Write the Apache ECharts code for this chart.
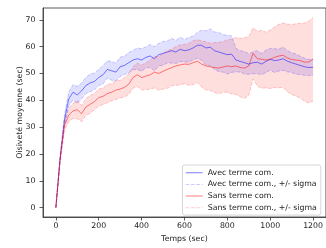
<!DOCTYPE html>
<html>
<head>
<meta charset="utf-8">
<script src="https://cdn.jsdelivr.net/npm/echarts@6/dist/echarts.min.js"></script>
<style>
html,body{margin:0;padding:0;background:#fff}
#chart{width:326px;height:248px}
</style>
</head>
<body>
<div id="chart"></div>
<script>
// temps (sec)
var temps = [0,20,40,60,80,100,120,140,160,180,200,220,240,260,280,300,320,340,360,380,
    400,420,440,460,480,500,520,540,560,580,600,620,640,660,680,700,720,740,760,780,
    800,820,840,860,880,900,920,940,960,980,1000,1020,1040,1060,1080,1100,1120,1140,1160,1180,1200];

// Avec terme com. : moyenne et sigma
var avecMoy = [0,18.5,32.5,40.5,43,42,43.5,45.5,46.5,47,48.5,49.5,51.5,51,50.5,52.5,53,54,55,55.5,
    55,56,56.5,55.5,57,57.5,58,58.5,58,59,58.5,58.8,59.5,60.5,60.5,59.5,59.8,58.5,58,57.5,
    57,57.2,55,54.5,54,53.5,54,54.2,53.5,54.5,55.3,54.8,55,55.5,54.6,54,53.5,53,52.5,52.2,52.3];
var avecSig = [0,1.0,2.0,2.6,2.8,3.2,2.9,3.0,3.3,3.1,3.0,3.4,3.2,3.5,3.3,3.6,3.4,3.8,3.6,4.0,
    4.2,3.9,4.3,4.5,4.2,4.4,4.1,4.6,4.3,4.5,4.2,4.6,4.4,4.8,5.6,6.4,6.8,7.0,7.3,7.0,
    7.2,6.8,4.4,4.0,4.2,3.8,4.1,4.3,3.9,4.2,4.0,4.4,4.1,4.3,4.0,3.6,3.8,3.4,3.2,3.0,3.1];

// Sans terme com. : moyenne et sigma
var sansMoy = [0,18,30.5,34.5,36,36.5,35,37.5,38.5,39.5,41,41.5,42.5,43,43.8,44.2,44.8,46,48.5,49.5,
    48.5,49,49.5,50.5,50,50.8,51.5,52.2,52.8,53.2,53.5,53.4,54,54.6,53.5,52.8,52.5,52.2,52,52.4,
    52.8,52.5,52.8,52.2,52,52.8,57.5,55.5,55.3,55,55.3,56,56.5,56.8,55.8,55.2,55,54.8,54.2,54.3,55.3];
var sansSig = [0,1.0,1.8,2.4,2.8,3.4,3.0,3.1,3.3,3.0,3.2,3.1,3.4,3.2,3.5,3.3,3.6,3.8,4.0,4.4,
    4.6,5.0,5.4,5.9,6.3,6.6,7.0,6.8,7.2,7.5,7.3,7.8,8.2,8.0,8.6,9.0,8.8,9.3,9.6,9.4,
    9.8,10.2,10.6,10.9,11.3,11.0,9.5,10.2,10.8,10.4,10.9,11.3,11.8,12.0,12.6,13.0,13.5,13.9,14.6,15.3,15.6];

var xTicks = [0,200,400,600,800,1000,1200];
var yTicks = [0,10,20,30,40,50,60,70];

var police = 'DejaVu Sans';

// icônes de légende : trait plein / trait pointillé (cadre 17x8 conservé par deux points minuscules)
var coins = 'M0,0h0.01v0.01h-0.01z M16.99,7.99h0.01v0.01h-0.01z ';
var iconePlein = 'path://' + coins + 'M0,3.5h17v1h-17z';
var iconeTirets = 'path://' + coins + 'M0,3.5h3.7v1h-3.7z M5.3,3.5h3.7v1h-3.7z M10.6,3.5h3.7v1h-3.7z M15.9,3.5h1.1v1h-1.1z';

function paires(vals){
    var out = [];
    for (var i = 0; i < temps.length; i++) out.push([temps[i], vals[i]]);
    return out;
}
function decale(moy, sig, signe){
    var out = [];
    for (var i = 0; i < moy.length; i++) out.push(+(moy[i] + signe * sig[i]).toFixed(3));
    return out;
}

function moyenne(nom, couleur, vals){
    return {
        name: nom, type: 'line', symbol: 'none', silent: true,
        lineStyle: {color: couleur, width: 1},
        itemStyle: {color: couleur},
        data: paires(vals)
    };
}
function bande(nom, couleur, fond, moy, sig){
    var haut = decale(moy, sig, 1), bas = decale(moy, sig, -1);
    var trait = {color: couleur, width: 1, type: [3.7, 1.6]};
    var zone = {
        type: 'custom', silent: true, data: [[0, 0]],
        renderItem: function(params, api){
            var pts = [], i;
            for (i = 0; i < temps.length; i++) pts.push(api.coord([temps[i], haut[i]]));
            for (i = temps.length - 1; i >= 0; i--) pts.push(api.coord([temps[i], bas[i]]));
            return {type: 'polygon', shape: {points: pts}, style: {fill: fond}};
        }
    };
    return [zone,
        {name: nom, type: 'line', symbol: 'none', silent: true,
         lineStyle: trait, itemStyle: {color: couleur}, data: paires(bas)},
        {name: nom, type: 'line', symbol: 'none', silent: true,
         lineStyle: trait, itemStyle: {color: couleur}, data: paires(haut)}
    ];
}

var series = [moyenne('Avec terme com.', 'rgba(0,0,255,0.5)', avecMoy)]
    .concat(bande('Avec terme com., +/- sigma', 'rgba(0,0,255,0.2)', 'rgba(0,0,255,0.12)', avecMoy, avecSig))
    .concat([moyenne('Sans terme com.', 'rgba(255,0,0,0.5)', sansMoy)])
    .concat(bande('Sans terme com., +/- sigma', 'rgba(255,0,0,0.2)', 'rgba(255,0,0,0.13)', sansMoy, sansSig));

var texte = {fontFamily: police, fontSize: 7.8, color: '#222'};
function brut(v){ return String(v); }

var option = {
    animation: false,
    backgroundColor: '#fff',
    grid: {left: 43, top: 8, right: -3.4, bottom: 28.3, show: true,
        borderColor: '#333', borderWidth: 0.8, backgroundColor: 'transparent'},
    legend: {
        orient: 'vertical', left: 182.5, top: 165,
        padding: [3.7, 4, 3.3, 3.2], itemGap: 3.7, itemWidth: 17, itemHeight: 8,
        backgroundColor: 'rgba(255,255,255,0.8)',
        borderColor: '#ccc', borderWidth: 0.8, borderRadius: 2,
        textStyle: {fontFamily: police, fontSize: 7.8, color: '#222', lineHeight: 8},
        data: [
            {name: 'Avec terme com.', icon: iconePlein, itemStyle: {color: 'rgba(0,0,255,0.5)', borderWidth: 0}},
            {name: 'Avec terme com., +/- sigma', icon: iconeTirets, itemStyle: {color: 'rgba(0,0,255,0.2)', borderWidth: 0}},
            {name: 'Sans terme com.', icon: iconePlein, itemStyle: {color: 'rgba(255,0,0,0.5)', borderWidth: 0}},
            {name: 'Sans terme com., +/- sigma', icon: iconeTirets, itemStyle: {color: 'rgba(255,0,0,0.2)', borderWidth: 0}}
        ]
    },
    xAxis: {
        type: 'value', min: -60, max: 1260,
        name: 'Temps (sec)', nameLocation: 'middle', nameGap: 18, nameMoveOverlap: false, nameTextStyle: texte,
        axisLine: {show: true, onZero: false, lineStyle: {color: '#333', width: 0.8}},
        axisTick: {show: true, length: 3.5, customValues: xTicks, lineStyle: {color: '#333', width: 0.8}},
        axisLabel: Object.assign({margin: 5, customValues: xTicks, formatter: brut}, texte),
        splitLine: {show: false}
    },
    yAxis: {
        type: 'value', min: -3.5, max: 74.4,
        name: 'Oisiveté moyenne (sec)', nameLocation: 'middle', nameGap: 19, nameMoveOverlap: false, nameTextStyle: texte,
        axisLine: {show: true, onZero: false, lineStyle: {color: '#333', width: 0.8}},
        axisTick: {show: true, length: 3.5, customValues: yTicks, lineStyle: {color: '#333', width: 0.8}},
        axisLabel: Object.assign({margin: 7.5, customValues: yTicks, formatter: brut}, texte),
        splitLine: {show: false}
    },
    series: series
};

var myChart = echarts.init(document.getElementById('chart'), null, {renderer: 'canvas'});
myChart.setOption(option);
</script>
</body>
</html>
